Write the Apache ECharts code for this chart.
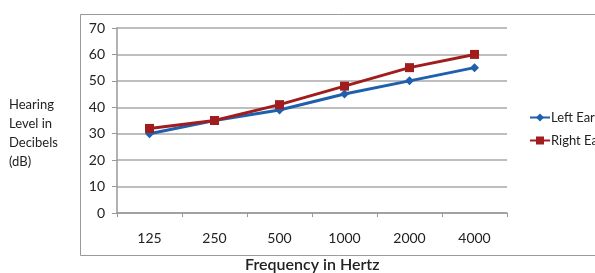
<!DOCTYPE html>
<html><head><meta charset="utf-8">
<script src="https://cdn.jsdelivr.net/npm/echarts@6/dist/echarts.min.js"></script>
<style>html,body{margin:0;padding:0;background:#fff}#c{width:595px;height:273px}</style>
</head><body><div id="c"></div>
<script>
const categories = ['125','250','500','1000','2000','4000'];
const leftEar = [30, 35, 39, 45, 50, 55];
const rightEar = [32, 35, 41, 48, 55, 60];
const yTicks = {min: 0, max: 70, interval: 10};

const chart = echarts.init(document.getElementById('c'));
const font = 'Lato, "Open Sans", sans-serif';
chart.setOption({
  animation: false,
  graphic: [
    {type: 'rect', shape: {x: 80.5, y: 14.5, width: 530, height: 241}, style: {fill: 'none', stroke: '#9a9a9a', lineWidth: 1}},
    {type: 'text', left: 9, top: 95, style: {text: 'Hearing\nLevel in\nDecibels\n(dB)', font: '13px ' + font, fill: '#222', lineHeight: 19}},
    {type: 'text', left: 245, top: 257, style: {text: 'Frequency in Hertz', font: '600 16px ' + font, fill: '#222'}}
  ],
  grid: {left: 117, right: 88, top: 28, bottom: 60},
  legend: {
    orient: 'vertical', left: 524, top: 106, itemGap: 10, itemWidth: 20, itemHeight: 10,
    textStyle: {fontFamily: font, fontSize: 13, color: '#222', padding: [0,0,0,-4]},
    data: ['Left Ear', 'Right Ear']
  },
  xAxis: {
    type: 'category', data: categories, boundaryGap: true,
    axisLine: {lineStyle: {color: '#999', width: 1.5}},
    axisTick: {show: true, length: 4, lineStyle: {color: '#999'}},
    axisLabel: {fontFamily: font, fontSize: 14, color: '#222', margin: 18}
  },
  yAxis: {
    type: 'value', min: yTicks.min, max: yTicks.max, interval: yTicks.interval,
    axisLine: {show: true, lineStyle: {color: '#999', width: 1.5}},
    axisTick: {show: true, length: 5, lineStyle: {color: '#999'}},
    axisLabel: {fontFamily: font, fontSize: 14, color: '#222', margin: 12},
    splitLine: {lineStyle: {color: '#a8a8a8', width: 1.5}}
  },
  series: [
    {name: 'Left Ear', type: 'line', data: leftEar, symbol: 'diamond', symbolSize: 9,
     lineStyle: {color: '#1f5fae', width: 3}, itemStyle: {color: '#1f5fae'}},
    {name: 'Right Ear', type: 'line', data: rightEar, symbol: 'rect', symbolSize: 9,
     lineStyle: {color: '#a11d1d', width: 3}, itemStyle: {color: '#a11d1d'}, z: 3}
  ]
});
</script></body></html>
